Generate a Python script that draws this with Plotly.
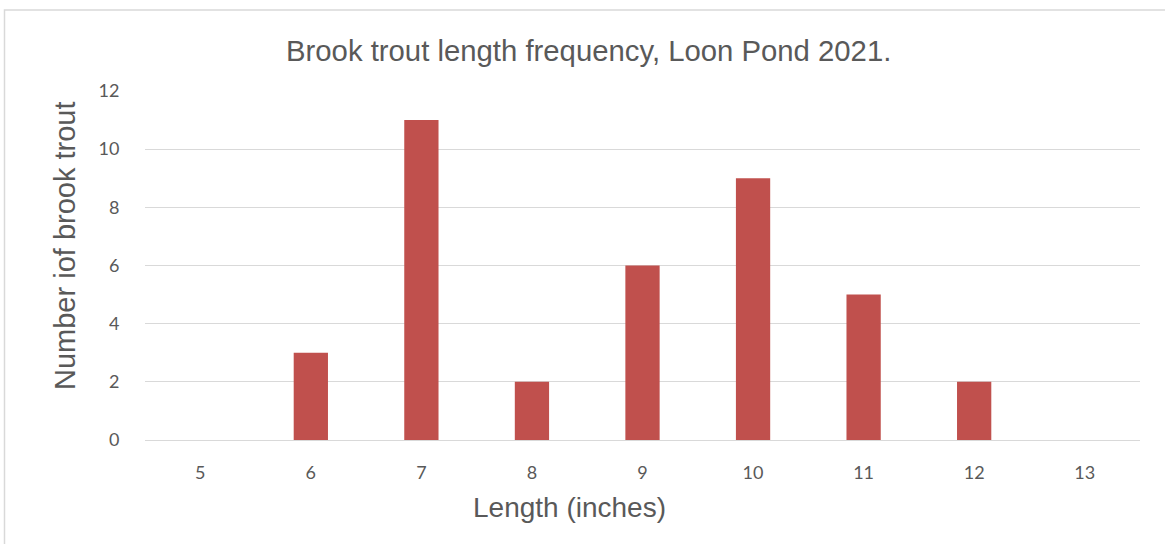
import plotly.graph_objects as go

lengths = ["5", "6", "7", "8", "9", "10", "11", "12", "13"]
counts = [0, 3, 11, 2, 6, 9, 5, 2, 0]
y_ticks = [0, 2, 4, 6, 8, 10, 12]

L, R, T, B = 145, 25, 91, 104
W, H = 1165, 544
pw, ph = W - L - R, H - T - B

def px(x):
    return (x - L) / pw

def py(y):
    return (H - B - y) / ph

fig = go.Figure()
fig.add_trace(go.Bar(x=lengths, y=counts, marker_color="#C0504D", marker_line_width=0,
                     width=0.31))

fig.update_layout(
    width=W, height=H,
    margin=dict(l=L, r=R, t=T, b=B),
    paper_bgcolor="white", plot_bgcolor="white",
    showlegend=False,
    font=dict(family="Lato, Liberation Sans, sans-serif", color="#595959"),
    xaxis=dict(type="category", showgrid=False, showline=False, zeroline=False,
               ticks="outside", ticklen=16, tickcolor="rgba(0,0,0,0)",
               tickfont=dict(size=18, color="#595959")),
    yaxis=dict(range=[0, 12], tickvals=y_ticks, showgrid=True, gridcolor="#D9D9D9",
               gridwidth=1, zeroline=True, zerolinecolor="#D9D9D9", zerolinewidth=1,
               ticks="outside", ticklen=21, tickcolor="rgba(0,0,0,0)",
               tickfont=dict(size=18, color="#595959")),
    shapes=[dict(type="rect", xref="paper", yref="paper",
                 x0=px(4.5), x1=px(1175), y0=py(560), y1=py(10),
                 line=dict(color="#D9D9D9", width=1.5), fillcolor="rgba(0,0,0,0)", layer="below")],
    annotations=[
        dict(text="Brook trout length frequency, Loon Pond 2021.", xref="paper", yref="paper",
             x=px(588), y=py(50), showarrow=False, xanchor="center", yanchor="middle",
             font=dict(family="Liberation Sans, Arial, sans-serif", size=29.3, color="#595959")),
        dict(text="Length (inches)", xref="paper", yref="paper",
             x=px(569), y=py(507), showarrow=False, xanchor="center", yanchor="middle",
             font=dict(family="Liberation Sans, Arial, sans-serif", size=28, color="#595959")),
        dict(text="Number iof brook trout", xref="paper", yref="paper",
             x=px(65), y=py(246), showarrow=False, xanchor="center", yanchor="middle",
             textangle=-90,
             font=dict(family="Liberation Sans, Arial, sans-serif", size=29, color="#595959")),
    ],
)

fig.write_html("out.html", config={"displayModeBar": False},
               post_script="document.body.style.margin='0';document.body.style.overflow='hidden';")
